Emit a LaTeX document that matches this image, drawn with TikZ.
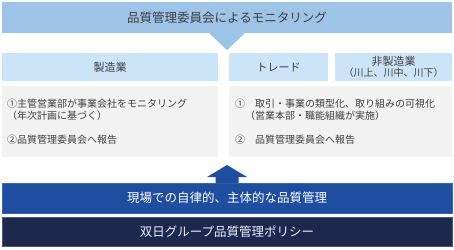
\documentclass[tikz,border=0pt]{standalone}
\usepackage{fontspec}
\setmainfont{Noto Sans CJK JP}
\usetikzlibrary{calc}
\definecolor{skyband}{HTML}{9DC3E6}
\definecolor{headblue}{HTML}{CCE4F7}
\definecolor{bodygray}{HTML}{F2F2F2}
\definecolor{fieldblue}{HTML}{1F4DA0}
\definecolor{fieldedge}{HTML}{3A64B4}
\definecolor{policynavy}{HTML}{1C294D}
\definecolor{policyedge}{HTML}{4A5682}
\definecolor{textgray}{HTML}{3F3F3F}
\begin{document}
\begin{tikzpicture}[x=1pt, y=-1pt,
  band/.style={inner sep=0pt, outer sep=0pt, minimum width=450pt, align=center,
               font=\fontsize{12.5}{15}\selectfont},
  monitor/.style={band, fill=skyband, minimum height=31pt, text=textgray},
  field/.style={band, fill=fieldblue, draw=fieldedge, line width=.8pt,
                minimum height=30pt, text=white},
  policy/.style={band, fill=policynavy, draw=policyedge, line width=.8pt,
                 minimum height=29pt, text=white!93!blue},
  head/.style={inner sep=0pt, outer sep=0pt, fill=headblue, minimum height=28pt,
               align=center, text=textgray, font=\fontsize{11}{11}\selectfont},
  body/.style={outer sep=0pt, inner ysep=0pt, fill=bodygray, minimum height=71pt,
               align=left, text=textgray, font=\fontsize{10}{12}\selectfont}
]
\useasboundingbox (0,0) rectangle (454,249);
\node[monitor] (monitor) at (227,17.5) {品質管理委員会によるモニタリング};
\fill[skyband] ($(monitor.south)+(-18,0)$) -- ($(monitor.south)+(18,0)$)
  -- ($(monitor.south)+(0,17)$) -- cycle;
\node[head, minimum width=216pt] (mfg) at (110,67) {製造業};
\node[head, minimum width=99pt] (trade) at (278.5,67) {トレード};
\node[head, minimum width=117pt] (nonmfg) at (393.5,67)
  {非製造業\\{\fontsize{10}{11}\selectfont （川上、川中、川下）}};
\node[body, text width=206pt, inner xsep=5pt] (mfgbody) at (110,121.5)
  {①主管営業部が事業会社をモニタリング\\
   （年次計画に基づく）\\[12pt]
   ②品質管理委員会へ報告};
\node[body, text width=211pt, inner xsep=6pt] (tradebody) at (340.5,121.5)
  {①　取引・事業の類型化、取り組みの可視化\\
   　（営業本部・職能組織が実施）\\[12pt]
   ②　品質管理委員会へ報告};
\node[field] (field) at (227,198) {現場での自律的、主体的な品質管理};
\fill[fieldblue] ($(field.north)+(-11.5,.4)$) -- ++(0,-6.4) -- ++(-8.5,0)
  -- ($(field.north)+(0,-18)$) -- ($(field.north)+(20,-6)$) -- ++(-8.5,0)
  -- ($(field.north)+(11.5,.4)$) -- cycle;
\node[policy] (policy) at (227,231.5) {双日グループ品質管理ポリシー};
\end{tikzpicture}
\end{document}
